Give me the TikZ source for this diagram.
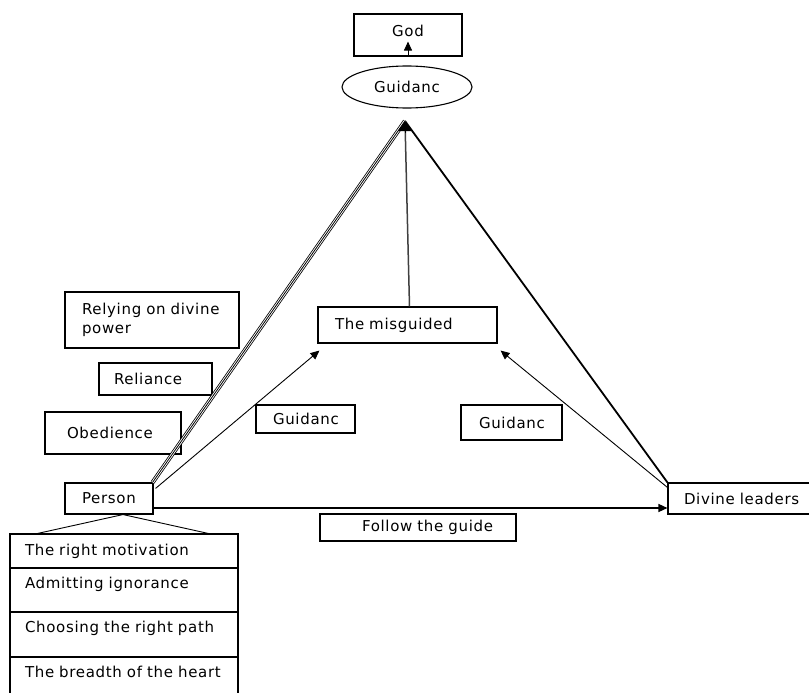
\documentclass[tikz,border=0pt]{standalone}
\usepackage{fontspec}
\setmainfont{DejaVu Sans}[LetterSpace=4.5]
\usetikzlibrary{arrows.meta,calc,shapes.geometric}
\begin{document}
\begin{tikzpicture}[x=1pt,y=-1pt,
  box/.style={draw, line width=1.1pt, rectangle, align=left, inner ysep=0pt, font=\fontsize{15}{19}\selectfont},
  tip/.style={-{Triangle[length=9pt,width=8pt]}},
  bigtip/.style={-{Triangle[length=10pt,width=14pt]}},
  thin/.style={line width=0.9pt},
  triple/.style={line width=4.2pt, postaction={draw, white, line width=2.6pt}, postaction={draw, black, line width=0.8pt}}]
\useasboundingbox (0,0) rectangle (809,693);
% top
\node[box, align=center, minimum width=108pt, minimum height=42pt, text depth=8pt] (god) at (408,35) {God};
\node[draw, ellipse, line width=1.1pt, minimum width=130pt, minimum height=42pt, inner sep=0pt, font=\fontsize{15}{19}\selectfont] (guid) at (407,87) {Guidanc};
\coordinate (apex) at (405,121);
% middle
\node[box, inner xsep=17pt, text width=145pt, minimum height=36pt] (mis) at (407.5,325) {The misguided};
\node[box, inner xsep=17pt, text width=65pt, minimum height=28pt] (gl) at (305.5,419) {Guidanc};
\node[box, inner xsep=18pt, text width=65pt, minimum height=35pt] (gr) at (511.5,422.5) {Guidanc};
% left boxes
\node[box, inner xsep=17pt, text width=140pt, minimum height=56pt] (rely) at (152,320) {Relying on divine\\power};
\node[box, inner xsep=15pt, text width=83pt, minimum height=32pt] (reli) at (155.5,379) {Reliance};
\node[box, inner xsep=22pt, text width=92pt, minimum height=42pt] (obed) at (113,433) {Obedience};
% bottom row
\node[box, inner xsep=17pt, text width=54pt, minimum height=31pt] (person) at (109,498.5) {Person};
\node[box, inner xsep=16pt, text width=118pt, minimum height=31pt] (div) at (743,498.5) {Divine leaders};
\node[box, inner xsep=4pt, text width=188pt, minimum height=27pt] (follow) at (418,527.5) {\hspace*{38pt}Follow the guide};
% stack
\node[box, inner xsep=15pt, text width=198pt, minimum height=34pt] (r1) at (124,551) {The right motivation};
\node[box, inner xsep=15pt, text width=198pt, minimum height=44pt, text depth=15pt] (r2) at (124,590) {Admitting ignorance};
\node[box, inner xsep=15pt, text width=198pt, minimum height=45pt, text depth=15pt] (r3) at (124,634.5) {Choosing the right path};
\node[box, inner xsep=15pt, text width=198pt, minimum height=44pt, text depth=15pt] (r4) at (124,679) {The breadth of the heart};
% connectors
\draw[thin, tip] (god.south) -- ($(god.south)+(0,-15)$);
\draw[triple] ($(person.north east)+(-1,0)$) -- (apex);
\draw[line width=1.8pt] (div.north west) -- (apex);
\draw[line width=1.5pt, black!75] ($(mis.north)+(2,0)$) -- (apex);
\draw[line width=0.5pt, bigtip] ($(apex)+(0,12)$) -- (apex);
\coordinate (misL) at ($(mis.south west)+(2,7)$);
\coordinate (misR) at ($(mis.south east)+(3,7)$);
\draw[thin, tip] ($(person.north east)+(2,6)$) -- (misL);
\draw[thin, tip] ($(div.north west)+(0,5)$) -- (misR);
\draw[line width=1.3pt, tip] ($(person.east)+(0,9.5)$) -- ($(div.west)+(0,9.5)$);
\draw[thin] ($(person.south)+(14,0)$) -- ($(r1.north west)!0.123!(r1.north east)$);
\draw[thin] ($(person.south)+(14,0)$) -- ($(r1.north west)!0.868!(r1.north east)$);
\end{tikzpicture}
\end{document}
